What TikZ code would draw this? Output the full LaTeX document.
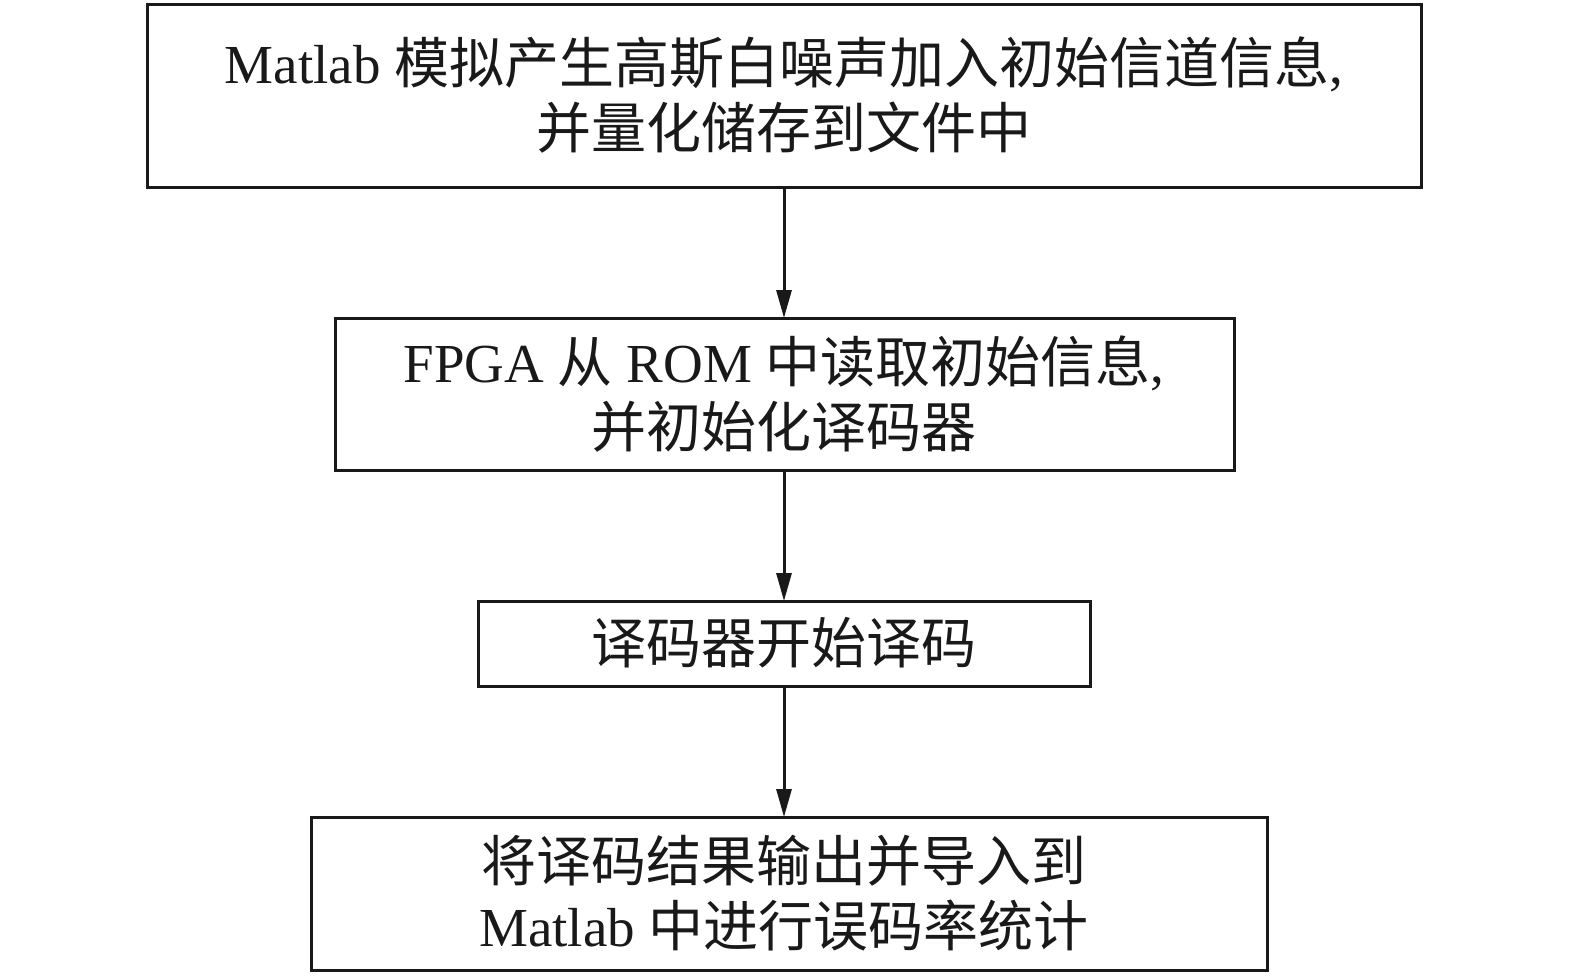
\documentclass[tikz,border=0pt]{standalone}
\usepackage{fontspec}
\setmainfont{Liberation Serif}
\newfontfamily\cjk{Noto Sans CJK SC}
\usetikzlibrary{arrows.meta}
\tikzset{
  flowbox/.style={draw=black!90, line width=1.5pt, inner sep=0pt, fill=white},
  flowtext/.style={font=\fontsize{27.5pt}{32.5pt}\selectfont, align=center, text=black!90},
  flowarrow/.style={draw=black!90, line width=1.5pt, -{Triangle[length=14pt,width=7.5pt]}}
}
\begin{document}
\begin{tikzpicture}[x=0.5pt,y=-0.5pt]
\useasboundingbox (0,0) rectangle (1575,980);
% boxes
\draw[flowbox] (147,4) rectangle (1421,187);
\coordinate (b1t) at (784,4); \coordinate (b1b) at (784,187);
\draw[flowbox] (335,318) rectangle (1234,470);
\coordinate (b2t) at (784,318); \coordinate (b2b) at (784,470);
\draw[flowbox] (478,601) rectangle (1090,686);
\coordinate (b3t) at (784,601); \coordinate (b3b) at (784,686);
\draw[flowbox] (311,817) rectangle (1267,970);
\coordinate (b4t) at (784,817);
% texts
\node[flowtext] (t1) at (784,95) {Matlab {\cjk 模拟产生高斯白噪声加入初始信道信息}, \\ {\cjk 并量化储存到文件中}};
\node[flowtext] (t2) at (784,394) {FPGA {\cjk 从} ROM {\cjk 中读取初始信息}, \\ {\cjk 并初始化译码器}};
\node[flowtext] (t3) at (784,643) {{\cjk 译码器开始译码}};
\node[flowtext] (t4) at (784,893) {{\cjk 将译码结果输出并导入到} \\ Matlab {\cjk 中进行误码率统计}};
% arrows
\draw[flowarrow] (b1b) -- (b2t);
\draw[flowarrow] (b2b) -- (b3t);
\draw[flowarrow] (b3b) -- (b4t);
\end{tikzpicture}
\end{document}
